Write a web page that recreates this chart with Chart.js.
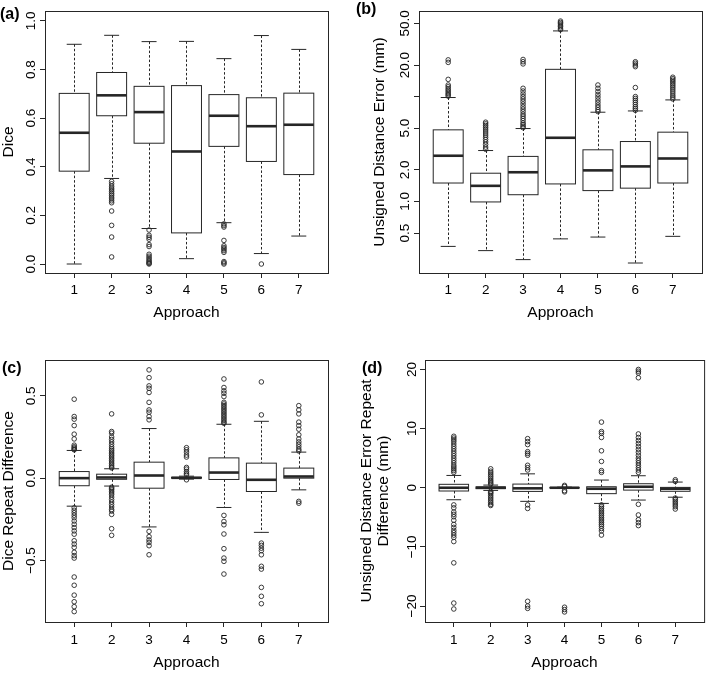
<!DOCTYPE html>
<html lang="en">
<head>
<meta charset="UTF-8">
<title>Approach comparison boxplots</title>
<script src="https://cdn.jsdelivr.net/npm/chart.js"></script>
<style>
  body { margin: 0; background: #fff; }
  #wrap { position: relative; width: 709px; height: 673px; }
  #wrap canvas { position: absolute; }
</style>
</head>
<body>
<div id="wrap">
  <canvas id="pa" width="354" height="336" style="left:0;top:0"></canvas>
  <canvas id="pb" width="355" height="336" style="left:354px;top:0"></canvas>
  <canvas id="pc" width="354" height="337" style="left:0;top:336px"></canvas>
  <canvas id="pd" width="355" height="337" style="left:354px;top:336px"></canvas>
</div>
<script>
// approaches on the x axis
const approaches = [1, 2, 3, 4, 5, 6, 7];

// (a) Dice
const diceHi  = [0.904, 0.941, 0.915, 0.916, 0.845, 0.940, 0.883];
const diceQ3  = [0.702, 0.788, 0.731, 0.734, 0.697, 0.684, 0.703];
const diceMed = [0.540, 0.694, 0.625, 0.463, 0.610, 0.567, 0.573];
const diceQ1  = [0.382, 0.610, 0.497, 0.128, 0.484, 0.422, 0.368];
const diceLo  = [0.000, 0.352, 0.146, 0.022, 0.170, 0.043, 0.115];
const diceOut = [
  [],
  [0.340, 0.330, 0.320, 0.312, 0.305, 0.298, 0.290, 0.283, 0.275, 0.268, 0.260, 0.252, 0.218, 0.159, 0.111, 0.029],
  [0.140, 0.118, 0.110, 0.102, 0.080, 0.072, 0.040, 0.032, 0.025, 0.018, 0.012, 0.007, 0.003, 0.0],
  [],
  [0.165, 0.158, 0.152, 0.097, 0.075, 0.068, 0.062, 0.055, 0.048, 0.010, 0.005, 0.0],
  [0.0],
  []
];
const diceTicks = [0, 0.2, 0.4, 0.6, 0.8, 1.0];

// (b) Unsigned distance error (mm), log axis
const distHi  = [9.8, 3.06, 4.96, 42.3, 7.1, 7.3, 9.3];
const distQ3  = [4.82, 1.86, 2.69, 18.2, 3.11, 3.73, 4.58];
const distMed = [2.73, 1.41, 1.90, 4.05, 1.98, 2.16, 2.57];
const distQ1  = [1.50, 0.99, 1.16, 1.47, 1.27, 1.34, 1.50];
const distLo  = [0.373, 0.34, 0.279, 0.44, 0.458, 0.259, 0.465];
const distOut = [
  [22.4, 21.2, 14.6, 12.9, 12.4, 11.9, 11.5, 11.1, 10.7, 10.4, 10.1],
  [5.7, 5.5, 5.3, 5.1, 4.9, 4.7, 4.5, 4.3, 4.1, 3.9, 3.7, 3.5, 3.3, 3.15],
  [22.6, 21.5, 20.5, 12.0, 11.3, 10.6, 10.0, 9.5, 9.0, 8.5, 8.0, 7.6, 7.2, 6.8, 6.5, 6.2, 5.9, 5.6, 5.4, 5.2, 5.05],
  [52.5, 51, 49.5, 48, 46.5, 45, 43.5],
  [12.9, 12.0, 11.2, 10.5, 9.9, 9.3, 8.8, 8.3, 7.9, 7.5, 7.2],
  [21.5, 20.8, 20.0, 19.3, 12.2, 10.0, 9.6, 9.2, 8.8, 8.4, 8.0, 7.7, 7.4],
  [15.3, 14.8, 14.3, 13.8, 13.3, 12.8, 12.3, 11.8, 11.3, 10.8, 10.3, 9.9, 9.5]
];
const distTicks = [0.5, 1, 2, 5, 10, 20, 50];
const distTickLabels = ['0.5', '1.0', '2.0', '5.0', '', '20.0', '50.0'];

// (c) Dice repeat difference
const repHi  = [0.168, 0.057, 0.301, 0.012, 0.327, 0.345, 0.158];
const repQ3  = [0.040, 0.024, 0.097, 0.005, 0.123, 0.091, 0.061];
const repMed = [0.000, 0.004, 0.016, 0.002, 0.034, -0.010, 0.010];
const repQ1  = [-0.046, -0.007, -0.061, 0.0, -0.008, -0.081, 0.0];
const repLo  = [-0.170, -0.048, -0.296, -0.006, -0.178, -0.329, -0.071];
const repOut = [
  [0.479, 0.374, 0.358, 0.319, 0.267, 0.238, 0.200, 0.190, 0.183, 0.176, 0.172,
   -0.180, -0.195, -0.21, -0.225, -0.24, -0.26, -0.28, -0.30, -0.32, -0.34, -0.38, -0.40, -0.42, -0.45, -0.47, -0.485, -0.60, -0.65, -0.71, -0.75, -0.78, -0.81],
  [0.390, 0.283, 0.273, 0.250, 0.235, 0.22, 0.205, 0.19, 0.178, 0.168, 0.158, 0.148, 0.138, 0.128, 0.118, 0.108, 0.098, 0.088, 0.078, 0.068, 0.062,
   -0.055, -0.062, -0.07, -0.08, -0.09, -0.10, -0.115, -0.13, -0.145, -0.16, -0.175, -0.19, -0.20, -0.22, -0.307, -0.347],
  [0.657, 0.61, 0.56, 0.545, 0.52, 0.46, 0.414, 0.40, 0.374, 0.354,
   -0.323, -0.355, -0.375, -0.39, -0.41, -0.465],
  [0.185, 0.172, 0.158, 0.14, 0.128, 0.065, 0.055, 0.04, 0.03, 0.02, -0.01],
  [0.602, 0.55, 0.53, 0.515, 0.495, 0.46, 0.45, 0.44, 0.43, 0.42, 0.41, 0.40, 0.39, 0.38, 0.37, 0.36, 0.35, 0.34, 0.333,
   -0.226, -0.263, -0.283, -0.339, -0.428, -0.485, -0.505, -0.582],
  [0.584, 0.384,
   -0.394, -0.408, -0.425, -0.44, -0.465, -0.535, -0.552, -0.663, -0.717, -0.762],
  [0.44, 0.414, 0.39, 0.34, 0.319, 0.297, 0.263, 0.238, 0.22, 0.205, 0.19, 0.175, 0.165,
   -0.141, -0.152]
];
const repTicks = [-0.5, 0, 0.5];

// (d) Unsigned distance error repeat difference (mm)
const drepHi  = [2.08, 0.45, 2.35, 0.1, 1.3, 2.03, 0.96];
const drepQ3  = [0.58, 0.15, 0.62, 0.02, 0.17, 0.68, 0.06];
const drepMed = [0.0, 0.0, -0.1, 0.0, -0.17, 0.17, -0.17];
const drepQ1  = [-0.55, -0.15, -0.62, -0.02, -1.0, -0.4, -0.6];
const drepLo  = [-2.03, -0.45, -2.3, -0.1, -2.65, -2.08, -1.6];
const drepOut = [
  [8.7, 8.4, 8.1, 7.8, 7.4, 7.0, 6.6, 6.2, 5.8, 5.4, 5.0, 4.6, 4.2, 3.8, 3.5, 3.2, 2.9, 2.6,
   -2.9, -3.4, -4.1, -4.5, -4.9, -5.5, -6.2, -6.7, -7.2, -7.6, -8.0, -8.4, -9.1, -12.7, -19.5, -20.5],
  [3.2, 2.8, 2.5, 2.2, 1.9, 1.6, 1.3, 1.05, 0.8, 0.6,
   -0.6, -0.8, -1.0, -1.3, -1.6, -1.9, -2.2, -2.5, -2.8, -3.0],
  [8.3, 7.8, 7.3, 6.1, 5.8, 5.5, 3.8, 3.4, 3.0, -2.9, -3.5, -19.2, -20.0, -20.4],
  [0.4, 0.2, -0.5, -0.7, -20.2, -20.6, -21.0],
  [11.1, 9.5, 9.2, 8.5, 6.25, 4.45, 2.9, 2.6,
   -2.9, -3.2, -3.5, -3.8, -4.1, -4.4, -4.7, -5.0, -5.3, -5.6, -5.9, -6.2, -6.5, -6.9, -7.3, -8.0],
  [20.0, 19.7, 19.4, 18.6, 9.1, 8.5, 8.0, 7.5, 7.0, 6.5, 6.0, 5.5, 5.0, 4.6, 4.2, 3.8, 3.4, 3.0, 2.6,
   -2.8, -4.6, -5.4, -5.9, -6.4],
  [1.35, 1.07, -1.75, -2.0, -2.3, -2.6, -2.9, -3.2, -3.6]
];
const drepTicks = [-20, -10, 0, 10, 20];

const FONT = "'Liberation Sans', Arial, sans-serif";
const INK = '#262626';

const minus = v => String(v).replace('-', '\u2212');

// boxes, whiskers, medians, frame and panel tag, all placed through the chart scales
const boxPlugin = {
  id: 'boxes',
  beforeDatasetsDraw(chart, args, o) {
    const { ctx, chartArea: a, scales: { x, y } } = chart;
    const seg = (x1, y1, x2, y2) => { ctx.beginPath(); ctx.moveTo(x1, y1); ctx.lineTo(x2, y2); ctx.stroke(); };
    ctx.save();
    ctx.strokeStyle = INK;
    approaches.forEach((ap, i) => {
      const cx = Math.round(x.getPixelForValue(ap)) + 0.5;
      const bl = x.getPixelForValue(ap - 0.4), br = x.getPixelForValue(ap + 0.4);
      const sl = x.getPixelForValue(ap - 0.2), sr = x.getPixelForValue(ap + 0.2);
      const hi = y.getPixelForValue(o.hi[i]), q3 = y.getPixelForValue(o.q3[i]);
      const md = y.getPixelForValue(o.med[i]), q1 = y.getPixelForValue(o.q1[i]);
      const lo = y.getPixelForValue(o.lo[i]);
      ctx.lineWidth = 1;
      ctx.setLineDash([2.5, 2]);
      seg(cx, hi, cx, q3);
      seg(cx, q1, cx, lo);
      ctx.setLineDash([]);
      seg(sl, hi, sr, hi);
      seg(sl, lo, sr, lo);
      ctx.fillStyle = '#fff';
      ctx.fillRect(bl, q3, br - bl, q1 - q3);
      ctx.strokeRect(bl, q3, br - bl, q1 - q3);
      ctx.lineWidth = 2.6;
      seg(bl, md, br, md);
    });
    ctx.lineWidth = 1;
    ctx.strokeRect(a.left + 0.5, a.top + 0.5, a.width, a.height);
    ctx.fillStyle = '#000';
    ctx.font = 'bold 16px ' + FONT;
    ctx.textBaseline = 'middle';
    ctx.textAlign = 'left';
    ctx.fillText(o.tag, o.tagX, o.tagY);
    ctx.restore();
  }
};

function panel(id, p) {
  const pts = [];
  approaches.forEach((ap, i) => p.out[i].forEach(v => pts.push({ x: ap, y: v })));
  const el = document.getElementById(id);
  const W = el.width, H = el.height;
  new Chart(el, {
    type: 'scatter',
    data: {
      datasets: [{
        data: pts,
        pointStyle: 'circle',
        pointRadius: 2.3,
        pointBorderWidth: 0.9,
        borderColor: INK,
        backgroundColor: 'rgba(0,0,0,0)'
      }]
    },
    options: {
      responsive: false,
      animation: false,
      events: [],
      layout: { padding: { left: 0, top: p.box[2], right: W - p.box[1], bottom: 0 } },
      plugins: {
        legend: { display: false },
        tooltip: { enabled: false },
        boxes: { hi: p.hi, q3: p.q3, med: p.med, q1: p.q1, lo: p.lo, tag: p.tag, tagX: p.tagX, tagY: p.tagY }
      },
      scales: {
        x: {
          type: 'linear',
          min: 0.22, max: 7.78,
          afterBuildTicks: s => { s.ticks = approaches.map(v => ({ value: v })); },
          afterFit: s => { s.height = H - p.box[3]; },
          grid: { drawOnChartArea: false, drawTicks: true, tickLength: 5, color: INK },
          border: { display: false },
          ticks: { autoSkip: false, maxRotation: 0, padding: p.xPad, color: '#000', font: { family: FONT, size: 13.5 } },
          title: { display: true, text: 'Approach', color: '#000', font: { family: FONT, size: 15.5 }, padding: { top: 0, bottom: p.xTitlePad } }
        },
        y: {
          type: p.log ? 'logarithmic' : 'linear',
          min: p.yMin, max: p.yMax,
          afterBuildTicks: s => { s.ticks = p.ticks.map(v => ({ value: v })); },
          afterFit: s => { s.width = p.box[0]; },
          grid: { drawOnChartArea: false, drawTicks: true, tickLength: 5, color: INK },
          border: { display: false },
          ticks: {
            autoSkip: false, minRotation: 90, maxRotation: 90, crossAlign: 'center',
            padding: p.yPad, color: '#000', font: { family: FONT, size: 13.5 },
            callback: p.label
          },
          title: { display: true, text: p.title, color: '#000', font: { family: FONT, size: 15.5, lineHeight: 1.1 }, padding: { top: p.yTitlePad, bottom: 0 } }
        }
      }
    },
    plugins: [boxPlugin]
  });
}

panel('pa', {
  box: [45, 328, 11, 273], yMin: -0.037, yMax: 1.041, ticks: diceTicks,
  label: v => v.toFixed(1), title: 'Dice', yTitlePad: 0, yPad: -0.4, xPad: 4, xTitlePad: 13.5,
  hi: diceHi, q3: diceQ3, med: diceMed, q1: diceQ1, lo: diceLo, out: diceOut,
  tag: '(a)', tagX: 0, tagY: 15
});

panel('pb', {
  box: [65, 348, 11, 273], log: true, yMin: 0.208, yMax: 65.5, ticks: distTicks,
  label: v => distTickLabels[distTicks.indexOf(v)], title: 'Unsigned Distance Error (mm)',
  yTitlePad: 17, yPad: -4.1, xPad: 4, xTitlePad: 13.5,
  hi: distHi, q3: distQ3, med: distMed, q1: distQ1, lo: distLo, out: distOut,
  tag: '(b)', tagX: 2, tagY: 10
});

panel('pc', {
  box: [45, 328, 24, 286], yMin: -0.873, yMax: 0.717, ticks: repTicks,
  label: v => minus(v.toFixed(1)), title: 'Dice Repeat Difference', yTitlePad: 0, yPad: -4.3, xPad: 5, xTitlePad: 0.7,
  hi: repHi, q3: repQ3, med: repMed, q1: repQ1, lo: repLo, out: repOut,
  tag: '(c)', tagX: 2, tagY: 33
});

panel('pd', {
  box: [71, 353, 24, 286], yMin: -22.7, yMax: 21.6, ticks: drepTicks,
  label: v => minus(v), title: ['Unsigned Distance Error Repeat', 'Difference (mm)'],
  yTitlePad: 4.5, yPad: -3.4, xPad: 5, xTitlePad: 0.7,
  hi: drepHi, q3: drepQ3, med: drepMed, q1: drepQ1, lo: drepLo, out: drepOut,
  tag: '(d)', tagX: 8, tagY: 33
});
</script>
</body>
</html>
